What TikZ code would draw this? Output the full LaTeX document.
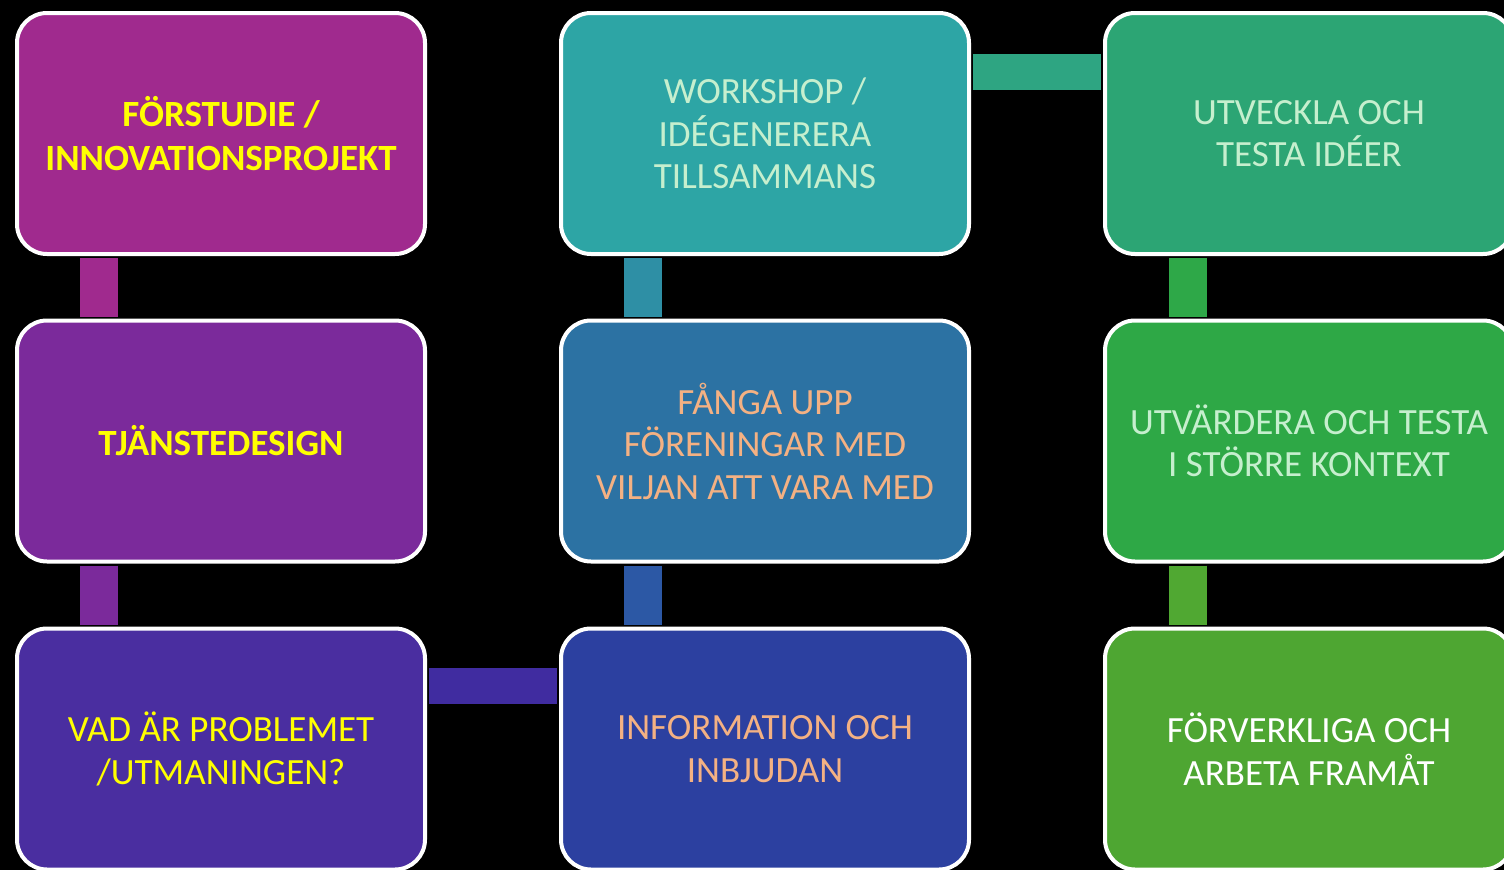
\documentclass[tikz,border=0pt]{standalone}
\usepackage{fontspec}
\setmainfont{Carlito}
\definecolor{bA}{RGB}{160,42,142}
\definecolor{bB}{RGB}{123,42,155}
\definecolor{bC}{RGB}{74,46,160}
\definecolor{bD}{RGB}{45,165,165}
\definecolor{bE}{RGB}{44,114,163}
\definecolor{bF}{RGB}{44,64,160}
\definecolor{bG}{RGB}{44,165,116}
\definecolor{bH}{RGB}{46,168,70}
\definecolor{bI}{RGB}{78,166,50}
\definecolor{kAB}{RGB}{160,42,142}
\definecolor{kBC}{RGB}{123,42,155}
\definecolor{kCF}{RGB}{64,44,160}
\definecolor{kDE}{RGB}{46,143,165}
\definecolor{kEF}{RGB}{44,88,165}
\definecolor{kDG}{RGB}{46,165,130}
\definecolor{kGH}{RGB}{46,168,72}
\definecolor{kHI}{RGB}{80,168,50}
\definecolor{tyel}{RGB}{255,255,0}
\definecolor{tmint}{RGB}{198,239,206}
\definecolor{tsal}{RGB}{244,177,131}
\tikzset{
  box/.style={draw=white, line width=4pt, rounded corners=30pt,
    minimum width=408pt, minimum height=241pt, inner sep=0pt,
    align=center, font=\fontsize{37}{42.5}\selectfont},
  boldbox/.style={box, font=\fontsize{37}{43.5}\selectfont\bfseries},
  conn/.style={line width=38pt, shorten <=2pt, shorten >=2pt},
  hconn/.style={line width=36pt, shorten <=2pt, shorten >=2pt}
}
\begin{document}
\begin{tikzpicture}[x=1pt,y=-1pt]
\fill[black] (0,0) rectangle (1504,870);
\useasboundingbox (0,0) rectangle (1504,870);
% column 1
\node[boldbox, fill=bA, text=tyel] (b1) at (221,133.5) {FÖRSTUDIE /\\INNOVATIONSPROJEKT};
\node[boldbox, fill=bB, text=tyel] (b2) at (221,441) {TJÄNSTEDESIGN};
\node[box, fill=bC, text=tyel] (b3) at (221,749) {VAD ÄR PROBLEMET\\/UTMANINGEN?};
% column 2
\node[box, fill=bD, text=tmint] (c1) at (765,133.5) {WORKSHOP /\\IDÉGENERERA\\TILLSAMMANS};
\node[box, fill=bE, text=tsal] (c2) at (765,441) {FÅNGA UPP\\FÖRENINGAR MED\\VILJAN ATT VARA MED};
\node[box, fill=bF, text=tsal] (c3) at (765,749) {INFORMATION OCH\\INBJUDAN};
% column 3
\node[box, fill=bG, text=tmint] (d1) at (1309,133.5) {UTVECKLA OCH\\TESTA IDÉER};
\node[box, fill=bH, text=tmint] (d2) at (1309,441) {UTVÄRDERA OCH TESTA\\I STÖRRE KONTEXT};
\node[box, fill=bI, text=white] (d3) at (1309,749) {FÖRVERKLIGA OCH\\ARBETA FRAMÅT};
% connectors
\draw[conn, kAB] ([xshift=-122pt]b1.south) -- ([xshift=-122pt]b2.north);
\draw[conn, kBC] ([xshift=-122pt]b2.south) -- ([xshift=-122pt]b3.north);
\draw[hconn, kCF] ([yshift=63pt]b3.east) -- ([yshift=63pt]c3.west);
\draw[conn, kEF] ([xshift=-122pt]c3.north) -- ([xshift=-122pt]c2.south);
\draw[conn, kDE] ([xshift=-122pt]c2.north) -- ([xshift=-122pt]c1.south);
\draw[hconn, kDG] ([yshift=61.5pt]c1.east) -- ([yshift=61.5pt]d1.west);
\draw[conn, kGH] ([xshift=-121pt]d1.south) -- ([xshift=-121pt]d2.north);
\draw[conn, kHI] ([xshift=-121pt]d2.south) -- ([xshift=-121pt]d3.north);
\end{tikzpicture}
\end{document}
